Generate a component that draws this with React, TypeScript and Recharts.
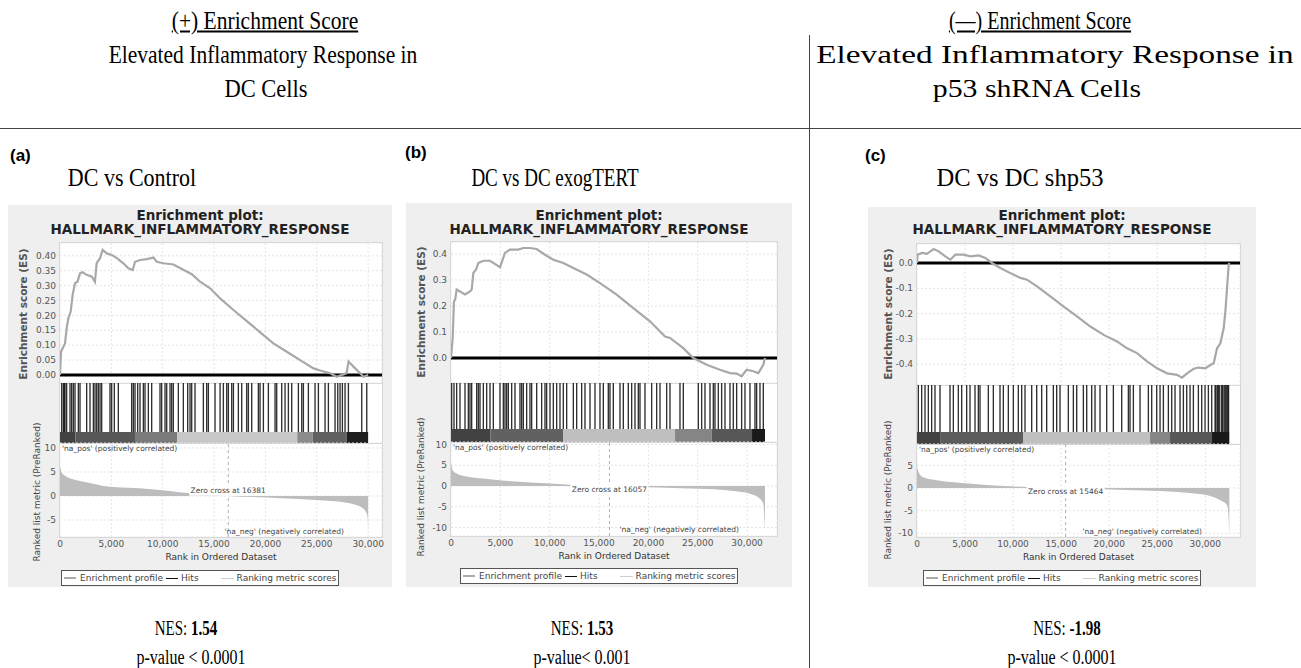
import React from 'react';
import { ComposedChart, Line, Area, Scatter, XAxis, YAxis, CartesianGrid, ReferenceLine, ReferenceDot } from 'recharts';

const SERIF = '"Liberation Serif", "Times New Roman", serif';
const SANS = '"DejaVu Sans", sans-serif';
const ARIAL = '"Liberation Sans", Arial, sans-serif';

// ---------------- data ----------------
const rankTicks = [0, 5000, 10000, 15000, 20000, 25000, 30000];
const legendLabels = ['Enrichment profile', 'Hits', 'Ranking metric scores'];
const plotTitle = ['Enrichment plot:', 'HALLMARK_INFLAMMATORY_RESPONSE'];
const headerPos = ['(+) Enrichment Score', 'Elevated Inflammatory Response in', 'DC Cells'];
const headerNeg = ['(\u2014) Enrichment Score', 'Elevated Inflammatory Response in', 'p53 shRNA Cells'];

const esA: [number, number][] = [[0,0],[100,0.078],[330,0.095],[490,0.106],[650,0.157],[810,0.19],[1040,0.213],[1230,0.269],[1460,0.308],[1700,0.313],[1950,0.341],[2200,0.345],[2600,0.336],[3100,0.33],[3400,0.313],[3570,0.375],[3900,0.392],[4150,0.42],[4550,0.408],[5040,0.403],[5530,0.392],[6170,0.375],[6660,0.358],[7080,0.352],[7310,0.38],[7800,0.386],[8450,0.389],[9100,0.394],[9420,0.38],[10070,0.375],[11040,0.371],[11860,0.356],[12830,0.338],[13640,0.313],[14620,0.291],[15590,0.257],[16890,0.218],[18190,0.181],[19490,0.143],[20780,0.106],[22080,0.078],[23380,0.05],[24680,0.022],[25330,0.015],[26300,0.006],[26950,-0.006],[27600,0.002],[27900,0.006],[28090,0.045],[28570,0.028],[29220,0.006],[29550,-0.006],[30000,0]];
const rankA: [number, number][] = [[0,6.3],[160,4.9],[650,4.0],[1620,3.3],[2920,2.7],[4220,2.1],[5520,1.8],[7790,1.6],[9420,1.3],[11040,0.93],[12660,0.57],[15260,0.2],[16381,0],[20130,-0.29],[22730,-0.57],[25330,-0.86],[27270,-1.2],[28570,-1.7],[29380,-2.4],[29870,-3.7],[29950,-4.4],[30000,-7.3]];
const hitsA: number[] = [162,325,422,487,649,974,1136,1298,1461,1785,1948,2597,2922,3247,3408,3571,3733,3896,4057,4870,5031,5291,5680,6979,7143,7303,7563,7790,8115,8277,8602,8926,9738,9900,10225,10390,10712,10874,11036,11523,12010,12432,12659,12822,13146,13958,14282,14445,15094,15586,15905,16230,16392,16717,16884,17366,17691,18178,18340,18665,19314,19476,19801,20288,20937,21099,21586,21911,22235,22560,23209,23534,23696,24183,24832,25157,25806,26131,26780,27040,27266,27494,27754,28079,29377,29864];
const barA: [number, number, number][] = [[0,1500,0.74],[1500,7300,0.66],[7300,11400,0.52],[11400,23100,0.22],[23100,24600,0.45],[24600,27900,0.62],[27900,30000,0.88]];

const esB: [number, number][] = [[0,0],[170,0.077],[300,0.218],[420,0.224],[574,0.263],[900,0.256],[1418,0.244],[1925,0.256],[2100,0.263],[2263,0.327],[2533,0.34],[2770,0.365],[3276,0.374],[3951,0.374],[4560,0.359],[4964,0.349],[5234,0.378],[5471,0.404],[5977,0.417],[6821,0.417],[7328,0.423],[8003,0.423],[8679,0.419],[9523,0.397],[10368,0.378],[11380,0.365],[12394,0.346],[13744,0.321],[15095,0.288],[16784,0.244],[18472,0.192],[20161,0.141],[21681,0.083],[22187,0.077],[23538,0.038],[24551,0],[25902,-0.026],[27252,-0.045],[28265,-0.058],[28941,-0.06],[29447,-0.07],[29953,-0.045],[30629,-0.051],[31136,-0.058],[31643,-0.026],[31812,0]];
const rankB: [number, number][] = [[0,5.8],[170,3.8],[574,3.0],[1587,2.3],[3276,1.8],[4964,1.37],[7328,0.97],[9692,0.65],[12056,0.32],[14082,0.08],[16057,0],[19148,-0.24],[22524,-0.48],[25902,-0.73],[28603,-1.2],[30291,-1.85],[31305,-3.1],[31643,-4.3],[31812,-10.7]];
const hitsB: number[] = [68,304,574,912,1418,1756,1925,2094,2600,2769,2938,3276,3613,3951,4289,4964,5302,5471,5640,5808,6146,6484,6990,7159,7328,7666,8003,8172,8679,9185,9523,9692,10030,10368,10705,11043,11380,11718,12394,12731,13238,13575,14082,14589,15095,15433,15939,16108,16446,17121,17459,17966,18303,18641,18979,19148,19654,20330,20836,21174,21849,22187,23200,23538,25057,25395,25733,26239,26577,26746,27083,27421,27760,28265,28603,28941,29447,29785,30291,30798,30967,31305,31643];
const barB: [number, number, number][] = [[0,4000,0.74],[4000,11350,0.62],[11350,22700,0.25],[22700,26400,0.48],[26400,30500,0.66],[30500,31812,0.9]];

const esC: [number, number][] = [[0,0],[60,0.033],[520,0.04],[1040,0.036],[1388,0.046],[1735,0.055],[2255,0.046],[2949,0.026],[3469,0.013],[3989,0.033],[4857,0.033],[5550,0.026],[6418,0.03],[7111,0.02],[7805,0],[8672,-0.02],[9713,-0.04],[10754,-0.059],[11448,-0.066],[12488,-0.092],[13876,-0.132],[15264,-0.172],[16651,-0.211],[18039,-0.251],[19426,-0.284],[20814,-0.31],[21855,-0.337],[22895,-0.356],[23936,-0.389],[24977,-0.416],[26017,-0.436],[27058,-0.442],[27578,-0.453],[28099,-0.436],[28793,-0.418],[29313,-0.413],[30007,-0.416],[30527,-0.403],[30874,-0.396],[31221,-0.337],[31568,-0.317],[31915,-0.257],[32088,-0.191],[32262,-0.099],[32435,-0.007],[32500,0]];
const rankC: [number, number][] = [[0,4.6],[170,3.5],[694,2.3],[2081,1.7],[3816,1.25],[6244,0.8],[9020,0.44],[11448,0.22],[15464,0],[18386,-0.22],[21855,-0.44],[25324,-0.66],[28099,-1.03],[30180,-1.6],[31568,-2.7],[32262,-3.8],[32400,-5.7],[32500,-10.3]];
const hitsC: number[] = [139,486,833,1180,1526,1873,2394,3434,3781,4302,4648,5169,5516,6036,6383,6556,7424,7944,8638,8985,9505,10025,10546,10893,11240,11934,12454,12974,13494,14188,14535,14882,15749,16270,16617,17311,17658,18178,18525,19045,19739,20433,21300,21994,22167,22514,23208,24075,24422,24943,25290,25636,26157,26504,26850,27371,27718,28065,28412,28759,29279,29626,29973,30320,30667,31014,31100,31250,31361,31500,31708,31800,31950,32055,32150,32250,32350,32420];
const barC: [number, number, number][] = [[0,2400,0.74],[2400,11030,0.64],[11030,24250,0.25],[24250,26330,0.48],[26330,30700,0.66],[30700,32500,0.9]];

const esTicksA = [0, 0.05, 0.1, 0.15, 0.2, 0.25, 0.3, 0.35, 0.4];
const esTicksB = [0, 0.1, 0.2, 0.3, 0.4];
const esTicksC = [-0.4, -0.3, -0.2, -0.1, 0];
const rankTicksA = [-5, 0, 5, 10];
const rankTicksB = [-10, -5, 0, 5, 10];
const rankTicksC = [-10, -5, 0, 5];

const PANELS = [
  { key: 'a', label: '(a)', title: 'DC vs Control', nes: '1.54', pval: 'p-value < 0.0001', es: esA, rank: rankA, hits: hitsA, bar: barA, zeroCross: 16381, esTicks: esTicksA, rankTicks: rankTicksA },
  { key: 'b', label: '(b)', title: 'DC vs DC exogTERT', nes: '1.53', pval: 'p-value< 0.001', es: esB, rank: rankB, hits: hitsB, bar: barB, zeroCross: 16057, esTicks: esTicksB, rankTicks: rankTicksB },
  { key: 'c', label: '(c)', title: 'DC vs DC shp53', nes: '-1.98', pval: 'p-value < 0.0001', es: esC, rank: rankC, hits: hitsC, bar: barC, zeroCross: 15464, esTicks: esTicksC, rankTicks: rankTicksC },
];

// ---------------- layout ----------------
const GEOM = [
  { bgL: 8, bgT: 205, bgR: 392, bgB: 587, plotL: 60, plotR: 382, esT: 243, esB: 383, barT: 432, barB: 443, rankB: 537, xMax: 31350, esDom: [-0.027, 0.443], esDec: 2, rankDom: [-8.54, 11.04], zcY: 1.1, negY: 532, esLabX: 23, esLabY: 314, rankLabX: 37, rankLabY: 492, labX: 10, labY: 155, titleX: 132, titleSx: 0.88, nesX: 186, pX: 191, legT: 570, xLabY: 557 },
  { bgL: 406, bgT: 203, bgR: 792, bgB: 587, plotL: 451, plotR: 777, esT: 242, esB: 383, barT: 429, barB: 442, rankB: 536, xMax: 33030, esDom: [-0.096, 0.446], esDec: 1, rankDom: [-12.05, 10.6], zcY: -0.7, negY: 530, esLabX: 421, esLabY: 312, rankLabX: 421, rankLabY: 487, labX: 405, labY: 152, titleX: 555, titleSx: 0.76, nesX: 582, pX: 582, legT: 568, xLabY: 556 },
  { bgL: 868, bgT: 207, bgR: 1256, bgB: 587, plotL: 917, plotR: 1240, esT: 244, esB: 385, barT: 432, barB: 444, rankB: 537, xMax: 33610, esDom: [-0.482, 0.075], esDec: 1, rankDom: [-10.82, 9.71], zcY: -0.7, negY: 532, esLabX: 888, esLabY: 314, rankLabX: 888, rankLabY: 490, labX: 865, labY: 155, titleX: 1020, titleSx: 0.98, nesX: 1067, pX: 1062, legT: 570, xLabY: 557 },
];

const gray = (lvl: number) => {
  const v = Math.round(255 * (1 - lvl));
  return `rgb(${v},${v},${v})`;
};

function Txt(props: any) {
  const { x, y, anchor = 'middle', size, family, weight = 400, color = '#000', sx = 1, rotate = 0, children, style = {} } = props;
  const tx = anchor === 'middle' ? '-50%' : anchor === 'end' ? '-100%' : '0';
  const origin = anchor === 'middle' ? 'center' : anchor === 'end' ? 'right center' : 'left center';
  return (
    <div
      style={{
        position: 'absolute', left: x, top: y,
        transform: `translate(${tx}, -50%)${rotate ? ` rotate(${rotate}deg)` : ''} scaleX(${sx})`,
        transformOrigin: origin, whiteSpace: 'nowrap', fontSize: size, lineHeight: `${size}px`,
        fontFamily: family, fontWeight: weight, color, ...style,
      }}
    >
      {children}
    </div>
  );
}

function Legend({ cx, top }: { cx: number; top: number }) {
  return (
    <div style={{ position: 'absolute', left: cx - 139, top, width: 278, height: 16, boxSizing: 'border-box', border: '1px solid #555', background: '#fff', display: 'flex', alignItems: 'center', fontFamily: SANS, fontSize: 9, color: '#444', whiteSpace: 'nowrap', paddingLeft: 2 }}>
      <span style={{ width: 12, height: 0, borderTop: '2px solid #aaa', marginRight: 4 }} />
      <span>{legendLabels[0]}</span>
      <span style={{ width: 12, height: 0, borderTop: '1.5px solid #111', margin: '0 3px' }} />
      <span>{legendLabels[1]}</span>
      <span style={{ width: 13, height: 0, borderTop: '1px solid #ccc', margin: '0 3px 0 22px' }} />
      <span>{legendLabels[2]}</span>
    </div>
  );
}

function GseaPanel({ d, g }: { d: any; g: any }) {
  const yW = 40;
  const padR = 12;
  const padT = 6;
  const plotW = g.plotR - g.plotL;
  const esH = g.esB - g.esT;
  const hitsH = g.barT - g.esB;
  const barH = g.barB - g.barT;
  const rankH = g.rankB - g.barB;
  const xAxisH = 16;
  const xDom = [0, g.xMax];
  const esData = d.es.map(([x, y]: number[]) => ({ x, y }));
  const rankData = d.rank.map(([x, y]: number[]) => ({ x, y }));
  const hitData = d.hits.map((x: number) => ({ x, y: 0 }));
  const tick = { fontSize: 9, fill: '#555', fontFamily: SANS };
  const cx = (g.bgL + g.bgR) / 2;
  const pcx = (g.plotL + g.plotR) / 2;
  const zcText = `Zero cross at ${d.zeroCross}`;
  return (
    <>
      <div style={{ position: 'absolute', left: g.bgL, top: g.bgT, width: g.bgR - g.bgL, height: g.bgB - g.bgT, background: '#efefef' }} />
      <Txt x={cx} y={216} size={13.5} family={SANS} weight={700} color="#222">{plotTitle[0]}</Txt>
      <Txt x={cx} y={230} size={13.5} family={SANS} weight={700} color="#222">{plotTitle[1]}</Txt>
      <div style={{ position: 'absolute', left: g.plotL - 1, top: g.esT - 1, width: plotW + 2, height: g.rankB - g.esT + 2, boxSizing: 'border-box', background: '#fff', border: '1px solid #d4d4d4' }} />
      <div style={{ position: 'absolute', left: g.plotL, top: g.esB, width: plotW, height: 1, background: '#dcdcdc' }} />
      <div style={{ position: 'absolute', left: g.plotL, top: g.barB, width: plotW, height: 1, background: '#d0d0d0' }} />

      {/* enrichment score */}
      <div style={{ position: 'absolute', left: g.plotL - yW, top: g.esT - padT }}>
        <ComposedChart width={plotW + yW + padR} height={esH + padT} data={esData} margin={{ top: padT, right: padR, bottom: 0, left: 0 }}>
          <CartesianGrid stroke="#e4e4e4" strokeDasharray="2 2" />
          <XAxis dataKey="x" type="number" domain={xDom} ticks={rankTicks} allowDataOverflow hide />
          <YAxis type="number" domain={g.esDom} ticks={d.esTicks} width={yW} allowDataOverflow tick={tick} tickLine={false} axisLine={false} tickSize={3} tickMargin={1} tickFormatter={(v: number) => v.toFixed(g.esDec)} interval={0} />
          <ReferenceLine y={0} stroke="#000" strokeWidth={3} />
          <Line dataKey="y" type="linear" stroke="#a8a8a8" strokeWidth={2.2} dot={false} isAnimationActive={false} />
        </ComposedChart>
      </div>

      {/* hits */}
      <div style={{ position: 'absolute', left: g.plotL, top: g.esB }}>
        <ComposedChart width={plotW} height={hitsH} margin={{ top: 0, right: 0, bottom: 0, left: 0 }}>
          <XAxis dataKey="x" type="number" domain={xDom} allowDataOverflow hide />
          <YAxis dataKey="y" type="number" domain={[0, 1]} allowDataOverflow hide />
          <Scatter
            data={hitData}
            isAnimationActive={false}
            shape={(p: any) => (
              <line x1={p.cx} x2={p.cx} y1={p.cy} y2={p.cy - hitsH} stroke="#121212" strokeWidth={1.35} strokeOpacity={0.88} />
            )}
          />
        </ComposedChart>
      </div>

      {/* ranking color bar */}
      <div style={{ position: 'absolute', left: g.plotL, top: g.barT }}>
        <ComposedChart width={plotW} height={barH} margin={{ top: 0, right: 0, bottom: 0, left: 0 }}>
          <XAxis dataKey="x" type="number" domain={xDom} allowDataOverflow hide />
          <YAxis type="number" domain={[0, 1]} allowDataOverflow hide />
          {d.bar.map(([a, b, l]: number[], i: number) => (
            <Area
              key={i}
              data={[{ x: a, y: 1 }, { x: b, y: 1 }]}
              dataKey="y"
              type="linear"
              baseValue={0}
              stroke={gray(l)}
              strokeWidth={0.5}
              fill={gray(l)}
              fillOpacity={1}
              isAnimationActive={false}
            />
          ))}
        </ComposedChart>
      </div>

      {/* ranked list metric */}
      <div style={{ position: 'absolute', left: g.plotL - yW, top: g.barB - padT }}>
        <ComposedChart width={plotW + yW + padR} height={rankH + xAxisH + padT} data={rankData} margin={{ top: padT, right: padR, bottom: 0, left: 0 }}>
          <CartesianGrid stroke="#e4e4e4" strokeDasharray="2 2" />
          <XAxis dataKey="x" type="number" domain={xDom} ticks={rankTicks} allowDataOverflow height={xAxisH} tick={tick} tickLine={false} axisLine={false} tickSize={2} tickMargin={2} interval={0} tickFormatter={(v: number) => v.toLocaleString('en-US')} />
          <YAxis type="number" domain={g.rankDom} ticks={d.rankTicks} width={yW} allowDataOverflow tick={tick} tickLine={false} axisLine={false} tickSize={3} tickMargin={1} interval={0} />
          <Area dataKey="y" type="monotone" stroke="none" fill="#bdbdbd" fillOpacity={1} baseValue={0} isAnimationActive={false} />
          <ReferenceLine x={d.zeroCross} stroke="#b0b0b0" strokeDasharray="3 3" />
          <ReferenceDot
            x={d.zeroCross}
            y={g.zcY}
            r={0}
            shape={(p: any) => (
              <g>
                <rect x={p.cx - 39} y={p.cy - 5} width={78} height={10} fill="#fff" />
                <text x={p.cx} y={p.cy + 2.7} textAnchor="middle" fontSize={7.5} fontFamily={SANS} fill="#444">{zcText}</text>
              </g>
            )}
          />
        </ComposedChart>
      </div>

      <Txt x={g.plotL + 2} y={g.barB + 6} anchor="start" size={7.5} family={SANS} color="#444">{"'na_pos' (positively correlated)"}</Txt>
      <Txt x={g.plotR - 38} y={g.negY} anchor="end" size={7.5} family={SANS} color="#444">{"'na_neg' (negatively correlated)"}</Txt>

      <Txt x={g.esLabX} y={g.esLabY} size={10.5} family={SANS} weight={700} color="#555" rotate={-90}>Enrichment score (ES)</Txt>
      <Txt x={g.rankLabX} y={g.rankLabY} size={9} family={SANS} color="#444" rotate={-90}>Ranked list metric (PreRanked)</Txt>
      <Txt x={pcx} y={g.xLabY} size={9} family={SANS} color="#333">Rank in Ordered Dataset</Txt>
      <Legend cx={cx} top={g.legT} />

      <Txt x={g.labX} y={g.labY} anchor="start" size={17} family={ARIAL} weight={700}>{d.label}</Txt>
      <Txt x={g.titleX} y={177} size={25} family={SERIF} sx={g.titleSx}>{d.title}</Txt>
      <Txt x={g.nesX} y={628} size={20} family={SERIF} sx={0.75}>NES: <b>{d.nes}</b></Txt>
      <Txt x={g.pX} y={657} size={20} family={SERIF} sx={0.8}>{d.pval}</Txt>
    </>
  );
}

export default function App() {
  return (
    <div style={{ position: 'absolute', left: 0, top: 0, width: 1301, height: 668, background: '#fff', overflow: 'hidden' }}>
      <Txt x={265} y={20} size={25} family={SERIF} sx={0.86} style={{ textDecoration: 'underline' }}>{headerPos[0]}</Txt>
      <Txt x={263} y={54} size={25} family={SERIF} sx={0.86}>{headerPos[1]}</Txt>
      <Txt x={266} y={88} size={25} family={SERIF} sx={0.9}>{headerPos[2]}</Txt>
      <Txt x={1040} y={20} size={25} family={SERIF} sx={0.8} style={{ textDecoration: 'underline' }}>{headerNeg[0]}</Txt>
      <Txt x={1055} y={54} size={25} family={SERIF} sx={1.33}>{headerNeg[1]}</Txt>
      <Txt x={1037} y={88} size={25} family={SERIF} sx={1.19}>{headerNeg[2]}</Txt>
      <div style={{ position: 'absolute', left: 0, top: 128, width: 1301, height: 1, background: '#444' }} />
      <div style={{ position: 'absolute', left: 809, top: 35, width: 1, height: 633, background: '#444' }} />
      {PANELS.map((p, i) => (
        <GseaPanel key={p.key} d={p} g={GEOM[i]} />
      ))}
    </div>
  );
}
